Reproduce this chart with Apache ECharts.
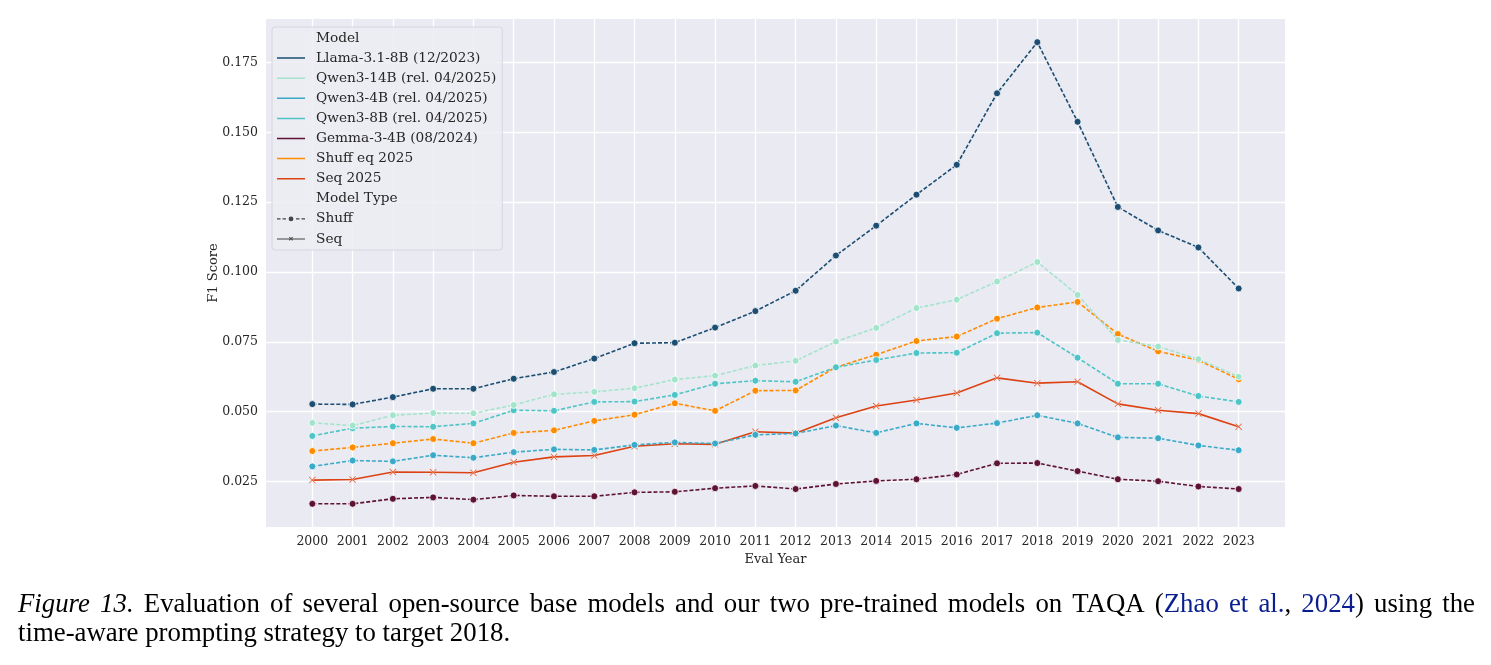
<!DOCTYPE html>
<html>
<head>
<meta charset="utf-8">
<script src="https://cdn.jsdelivr.net/npm/echarts@6/dist/echarts.min.js"></script>
<style>
  html, body { margin: 0; padding: 0; background: #fff; }
  #chart { width: 1491px; height: 665px; }
</style>
</head>
<body>
<div id="chart"></div>
<script>
// years on the x axis
var years = [2000, 2001, 2002, 2003, 2004, 2005, 2006, 2007, 2008, 2009, 2010, 2011,
             2012, 2013, 2014, 2015, 2016, 2017, 2018, 2019, 2020, 2021, 2022, 2023];
var yTicks = [0.025, 0.050, 0.075, 0.100, 0.125, 0.150, 0.175];

// F1 scores
var llama = [0.0527, 0.0526, 0.0552, 0.0582, 0.0582, 0.0618, 0.0642, 0.0690, 0.0745, 0.0747, 0.0801, 0.0860,
             0.0933, 0.1059, 0.1166, 0.1277, 0.1384, 0.1640, 0.1823, 0.1538, 0.1233, 0.1149, 0.1088, 0.0941];
var qwen14 = [0.0460, 0.0450, 0.0487, 0.0495, 0.0494, 0.0524, 0.0562, 0.0571, 0.0584, 0.0615, 0.0629, 0.0665,
              0.0682, 0.0751, 0.0800, 0.0871, 0.0901, 0.0966, 0.1036, 0.0918, 0.0757, 0.0733, 0.0688, 0.0625];
var qwen4 = [0.0304, 0.0325, 0.0322, 0.0344, 0.0335, 0.0355, 0.0365, 0.0363, 0.0381, 0.0390, 0.0386, 0.0417,
             0.0422, 0.0450, 0.0424, 0.0458, 0.0442, 0.0459, 0.0487, 0.0458, 0.0408, 0.0405, 0.0379, 0.0362];
var qwen8 = [0.0413, 0.0441, 0.0447, 0.0446, 0.0458, 0.0505, 0.0503, 0.0535, 0.0536, 0.0560, 0.0600, 0.0611,
             0.0607, 0.0659, 0.0685, 0.0710, 0.0711, 0.0781, 0.0783, 0.0693, 0.0600, 0.0600, 0.0556, 0.0535];
var gemma = [0.0170, 0.0170, 0.0188, 0.0193, 0.0185, 0.0200, 0.0197, 0.0197, 0.0211, 0.0213, 0.0226, 0.0234,
             0.0223, 0.0241, 0.0252, 0.0258, 0.0275, 0.0315, 0.0316, 0.0287, 0.0258, 0.0251, 0.0232, 0.0223];
var shuffEq = [0.0359, 0.0372, 0.0387, 0.0402, 0.0387, 0.0424, 0.0433, 0.0467, 0.0489, 0.0530, 0.0503, 0.0575,
               0.0576, 0.0659, 0.0704, 0.0753, 0.0769, 0.0833, 0.0873, 0.0893, 0.0778, 0.0716, 0.0684, 0.0616];
var seq = [0.0255, 0.0257, 0.0284, 0.0283, 0.0281, 0.0319, 0.0338, 0.0343, 0.0376, 0.0385, 0.0383, 0.0428,
           0.0423, 0.0478, 0.0520, 0.0542, 0.0567, 0.0621, 0.0602, 0.0607, 0.0528, 0.0505, 0.0493, 0.0446];

var modelNames = ["Llama-3.1-8B (12/2023)", "Qwen3-14B (rel. 04/2025)", "Qwen3-4B (rel. 04/2025)",
                  "Qwen3-8B (rel. 04/2025)", "Gemma-3-4B (08/2024)", "Shuff eq 2025", "Seq 2025"];
var modelValues = [llama, qwen14, qwen4, qwen8, gemma, shuffEq, seq];
var modelTypes = ["Shuff", "Shuff", "Shuff", "Shuff", "Shuff", "Shuff", "Seq"];
var colors = ["#1c4d72", "#a4e4cc", "#3aaac8", "#4ec4c6", "#5e1334", "#ff8c00", "#dc4212"];

var FONT = "DejaVu Serif";
var TXT = "#262626";

// little icons: invisible corner specks keep the 28x14 box
var box = "M0,0h0.01v0.01h-0.01z M27.99,13.99h0.01v0.01h-0.01z ";
var lineIcon = "path://" + box + "M0,6.25h28v1.5h-28z";
var shuffIcon = "path://" + box +
  "M0,6.4h3.5v1.2h-3.5z M5.5,6.4h3.5v1.2h-3.5z M19,6.4h3.5v1.2h-3.5z M24.5,6.4h3.5v1.2h-3.5z " +
  "M11.6,7a2.4,2.4 0 1,0 4.8,0a2.4,2.4 0 1,0 -4.8,0z";
var seqIcon = "path://" + box + "M0,6.4h28v1.2h-28z " +
  "M12,5.3L12.6,4.7L14,6.1L15.4,4.7L16,5.3L14.6,6.7L16,8.1L15.4,8.7L14,7.3L12.6,8.7L12,8.1L13.4,6.7Z";
var xSymbol = "path://M0,1L1,0L5,4L9,0L10,1L6,5L10,9L9,10L5,6L1,10L0,9L4,5Z";

var series = modelNames.map(function (name, i) {
  var isSeq = modelTypes[i] === "Seq";
  return {
    name: name,
    type: "line",
    data: years.map(function (yr, j) { return [yr, modelValues[i][j]]; }),
    symbol: isSeq ? xSymbol : "circle",
    symbolSize: 7,
    showSymbol: true,
    itemStyle: { color: colors[i], borderColor: "#ffffff", borderWidth: isSeq ? 0.4 : 0.8 },
    lineStyle: { color: colors[i], width: 1.6, type: isSeq ? "solid" : [4, 2] },
    z: 10 - i,
    silent: true
  };
});

// dummy series only for the legend entries
["Model", "Model Type", "Shuff", "Seq"].forEach(function (n) {
  series.push({ name: n, type: "line", data: [], itemStyle: { color: "#444444" }, lineStyle: { color: "#444444" } });
});

var legendData = [{ name: "Model", icon: "none" }];
modelNames.forEach(function (n) {
  legendData.push({ name: n, icon: lineIcon, itemStyle: { borderWidth: 0 } });
});
legendData.push({ name: "Model Type", icon: "none" });
legendData.push({ name: "Shuff", icon: shuffIcon, itemStyle: { borderWidth: 0 } });
legendData.push({ name: "Seq", icon: seqIcon, itemStyle: { borderWidth: 0 } });

// caption, justified across the first line
var CAP = "'Liberation Serif'";
var capSize = 26.8;
var capLeft = 18, capRight = 1475;
var line1 = [
  [["Figure", "it"]], [["13.", "it"]], [["Evaluation"]], [["of"]], [["several"]], [["open-source"]],
  [["base"]], [["models"]], [["and"]], [["our"]], [["two"]], [["pre-trained"]], [["models"]], [["on"]],
  [["TAQA"]], [["("], ["Zhao", "lk"]], [["et", "lk"]], [["al.", "lk"], [","]], [["2024", "lk"], [")"]],
  [["using"]], [["the"]]
];
var line2 = "time-aware prompting strategy to target 2018.";

var ctx = document.createElement("canvas").getContext("2d");
function partFont(p) { return (p[1] === "it" ? "italic " : "") + capSize + "px " + CAP; }
function wordWidth(w) {
  return w.reduce(function (s, p) { ctx.font = partFont(p); return s + ctx.measureText(p[0]).width; }, 0);
}
var widths = line1.map(wordWidth);
var total = widths.reduce(function (a, b) { return a + b; }, 0);
var gap = (capRight - capLeft - total) / (line1.length - 1);

var graphics = [];
var cx = capLeft;
line1.forEach(function (w, i) {
  var str = w.map(function (p) { return p[1] ? "{" + p[1] + "|" + p[0] + "}" : "{n|" + p[0] + "}"; }).join("");
  graphics.push({
    type: "text", x: cx, y: 605,
    style: {
      text: str, verticalAlign: "middle",
      rich: {
        n: { fontFamily: "Liberation Serif", fontSize: capSize, fill: "#000000" },
        it: { fontFamily: "Liberation Serif", fontStyle: "italic", fontSize: capSize, fill: "#000000" },
        lk: { fontFamily: "Liberation Serif", fontSize: capSize, fill: "#0a1f8f" }
      }
    }
  });
  cx += widths[i] + gap;
});
graphics.push({
  type: "text", x: capLeft, y: 634,
  style: { text: line2, font: capSize + "px " + CAP, fill: "#000000", verticalAlign: "middle" }
});

var chart = echarts.init(document.getElementById("chart"), null, { renderer: "canvas" });
chart.setOption({
  animation: false,
  backgroundColor: "#ffffff",
  grid: { left: 266, right: 206, top: 19, bottom: 138, containLabel: false, outerBoundsMode: "none",
          show: true, backgroundColor: "#eaeaf2", borderWidth: 0 },
  xAxis: {
    type: "value",
    min: 1998.85,
    max: 2024.15,
    name: "Eval Year",
    nameLocation: "middle",
    nameGap: 23,
    nameTextStyle: { fontFamily: FONT, fontSize: 13, color: TXT },
    axisLine: { show: false },
    axisTick: { show: false, customValues: years },
    axisLabel: { customValues: years, fontFamily: FONT, fontSize: 12.5, color: TXT, margin: 8,
                 formatter: function (v) { return String(Math.round(v)); } },
    splitLine: { show: true, lineStyle: { color: "#ffffff", width: 1.3 } }
  },
  yAxis: {
    type: "value",
    min: 0.0087,
    max: 0.1906,
    name: "F1 Score",
    nameLocation: "middle",
    nameRotate: 90,
    nameGap: 46,
    nameMoveOverlap: false,
    nameTextStyle: { fontFamily: FONT, fontSize: 13, color: TXT },
    axisLine: { show: false },
    axisTick: { show: false, customValues: yTicks },
    axisLabel: { customValues: yTicks, fontFamily: FONT, fontSize: 12.5, color: TXT, margin: 8,
                 formatter: function (v) { return v.toFixed(3); } },
    splitLine: { show: true, lineStyle: { color: "#ffffff", width: 1.3 } }
  },
  legend: {
    orient: "vertical",
    left: 272,
    top: 27,
    padding: [4, 6, 4, 5],
    itemWidth: 28,
    itemHeight: 14,
    itemGap: 6.1,
    selectedMode: false,
    backgroundColor: "rgba(236,236,243,0.85)",
    borderColor: "#d6d6de",
    borderWidth: 1,
    borderRadius: 3,
    textStyle: { fontFamily: FONT, fontSize: 13.7, lineHeight: 14, color: TXT, padding: [0, 0, 0, 6] },
    data: legendData
  },
  graphic: graphics,
  series: series
});
</script>
</body>
</html>
